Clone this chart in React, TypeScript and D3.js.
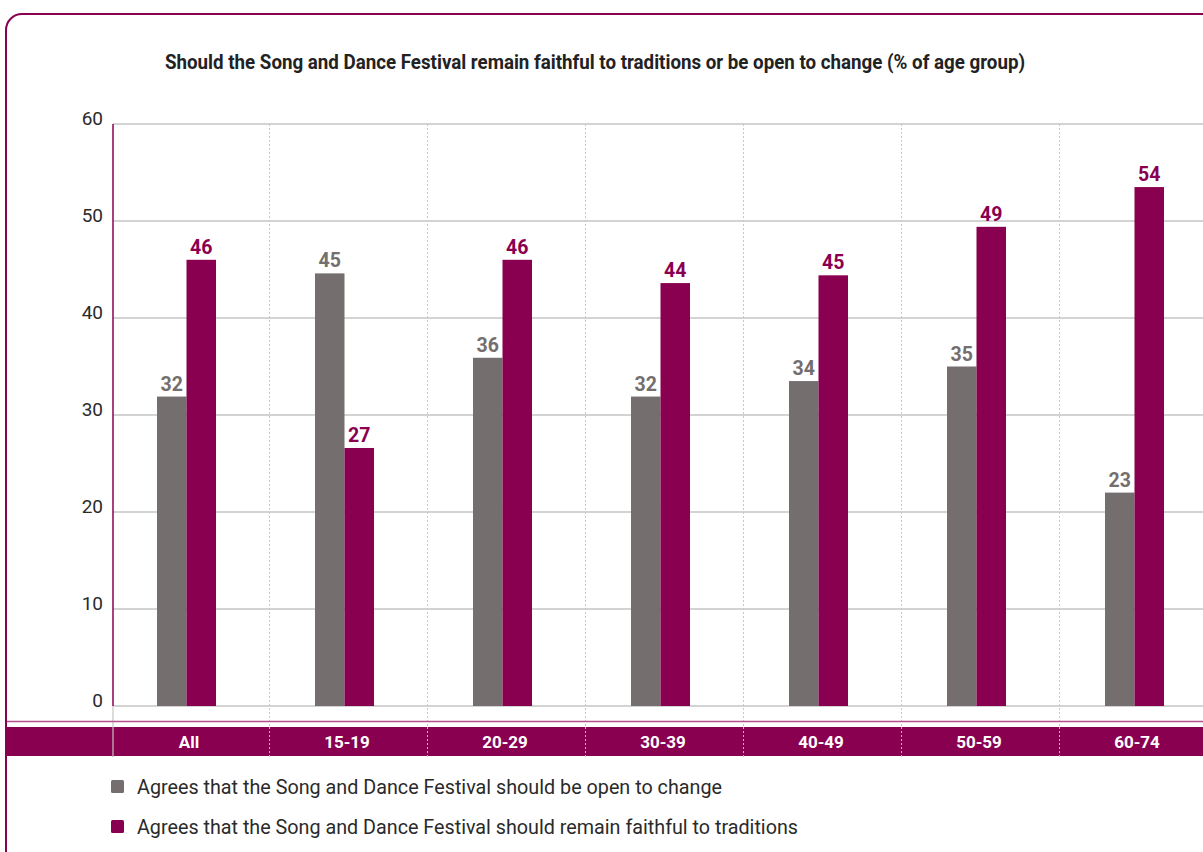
import React from "react";
import * as d3 from "d3";

const categories = ["All", "15-19", "20-29", "30-39", "40-49", "50-59", "60-74"];
const openValues = [31.9, 44.6, 35.9, 31.9, 33.5, 35.0, 22.0];
const faithfulValues = [46.0, 26.6, 46.0, 43.6, 44.4, 49.4, 53.5];
const openLabels = ["32", "45", "36", "32", "34", "35", "23"];
const faithfulLabels = ["46", "27", "46", "44", "45", "49", "54"];
const yTicks = [0, 10, 20, 30, 40, 50, 60];
const seriesNames = [
  "Agrees that the Song and Dance Festival should be open to change",
  "Agrees that the Song and Dance Festival should remain faithful to traditions",
];
const legendWidths = [585, 661];
const title =
  "Should the Song and Dance Festival remain faithful to traditions or be open to change (% of age group)";

const GREY = "#746e6e";
const PURPLE = "#8a0051";
const FONT = "Roboto, 'Open Sans', sans-serif";

export default function App() {
  const W = 1203;
  const H = 852;
  const plotLeft = 113;
  const step = 158;
  const x = d3
    .scaleBand<string>()
    .domain(categories)
    .range([plotLeft, plotLeft + step * categories.length])
    .paddingInner(0)
    .paddingOuter(0);
  const y = d3.scaleLinear().domain([0, 60]).range([706, 124]);
  const barW = 29.5;
  const pairOffset = -5.5;

  return (
    <svg
      width={W}
      height={H}
      style={{ position: "absolute", left: 0, top: 0, background: "#fff" }}
      fontFamily={FONT}
    >
      {/* frame */}
      <rect x={6} y={14} width={1260} height={900} rx={16} ry={16} fill="none" stroke={PURPLE} strokeWidth={2} />

      {/* title */}
      <text
        x={595}
        y={69}
        textAnchor="middle"
        fontSize={19.5}
        fontWeight="bold"
        fill="#222"
        textLength={860}
        lengthAdjust="spacingAndGlyphs"
      >
        {title}
      </text>

      {/* gridlines */}
      {yTicks.map((t) => (
        <line key={"g" + t} x1={plotLeft} x2={W} y1={y(t)} y2={y(t)} stroke="#c4c4c4" strokeWidth={1.3} />
      ))}

      {/* dividers */}
      {categories.slice(1).map((c) => (
        <line
          key={"d" + c}
          x1={(x(c) as number) - 1.5}
          x2={(x(c) as number) - 1.5}
          y1={124}
          y2={757}
          stroke="#c8c8c8"
          strokeWidth={1}
          strokeDasharray="2,2"
        />
      ))}

      {/* y tick labels */}
      {yTicks.map((t) => (
        <text key={"t" + t} x={103} y={y(t) + 0.5} textAnchor="end" fontSize={19} fill="#2a2a2a">
          {t}
        </text>
      ))}

      {/* bars */}
      {categories.map((c, i) => {
        const cx = (x(c) as number) + x.bandwidth() / 2 + pairOffset;
        return (
          <g key={"b" + c}>
            <rect x={cx - barW} y={y(openValues[i])} width={barW} height={y(0) - y(openValues[i])} fill={GREY} />
            <rect x={cx} y={y(faithfulValues[i])} width={barW} height={y(0) - y(faithfulValues[i])} fill={PURPLE} />
            <text
              x={cx - barW / 2}
              y={y(openValues[i]) - 6}
              textAnchor="middle"
              fontSize={19.5}
              fontWeight="bold"
              fill={GREY}
            >
              {openLabels[i]}
            </text>
            <text
              x={cx + barW / 2}
              y={y(faithfulValues[i]) - 6}
              textAnchor="middle"
              fontSize={19.5}
              fontWeight="bold"
              fill={PURPLE}
            >
              {faithfulLabels[i]}
            </text>
          </g>
        );
      })}

      {/* axis */}
      <line x1={plotLeft} x2={plotLeft} y1={124} y2={706} stroke={PURPLE} strokeWidth={1.5} />
      <line x1={plotLeft} x2={plotLeft} y1={706} y2={757} stroke="#c4c4c4" strokeWidth={1.2} />

      {/* category band */}
      <line x1={7} x2={W} y1={721.5} y2={721.5} stroke="#b5508a" strokeWidth={1.5} />
      <rect x={7} y={727} width={W} height={29} fill={PURPLE} />
      {categories.slice(1).map((c) => (
        <line
          key={"bd" + c}
          x1={(x(c) as number) - 1.5}
          x2={(x(c) as number) - 1.5}
          y1={727}
          y2={756}
          stroke="#d9a9c3"
          strokeWidth={1}
          strokeDasharray="2,2"
        />
      ))}
      <line x1={plotLeft} x2={plotLeft} y1={727} y2={757} stroke="#c4c4c4" strokeWidth={1.2} />
      {categories.map((c) => (
        <text
          key={"c" + c}
          x={(x(c) as number) + x.bandwidth() / 2 - 3}
          y={747.5}
          textAnchor="middle"
          fontSize={17}
          fontWeight="bold"
          fill="#fff"
        >
          {c}
        </text>
      ))}

      {/* legend */}
      {seriesNames.map((s, i) => (
        <g key={"l" + i} transform={`translate(111, ${780 + i * 40})`}>
          <rect x={0} y={0} width={13} height={13} rx={1.5} fill={i === 0 ? GREY : PURPLE} />
          <text
            x={26}
            y={14}
            fontSize={20}
            fill="#2a2a2a"
            textLength={legendWidths[i]}
            lengthAdjust="spacingAndGlyphs"
          >
            {s}
          </text>
        </g>
      ))}
    </svg>
  );
}
